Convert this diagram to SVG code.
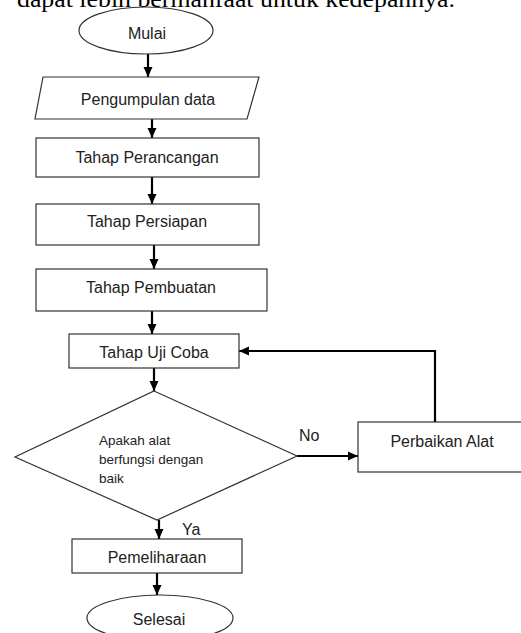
<svg xmlns="http://www.w3.org/2000/svg" width="521" height="633" viewBox="0 0 521 633">
<defs>
<marker id="ah" markerUnits="userSpaceOnUse" markerWidth="10" markerHeight="10" viewBox="0 0 10 10" refX="10" refY="5" orient="auto">
<path d="M0,0.5 L10,5 L0,9.5 Z" fill="#000"/>
</marker>
<style>
.shape{fill:#fff;stroke:#333;stroke-width:1.2}
.lbl{font-family:"Liberation Sans",Arial,sans-serif;font-size:16px;fill:#222;text-anchor:middle}
.small{font-family:"Liberation Sans",Arial,sans-serif;font-size:13.5px;fill:#222}
.conn{fill:none;stroke:#000;stroke-width:2.2}
.arr{marker-end:url(#ah)}
</style>
</defs>
<rect width="521" height="633" fill="#fff"/>
<text x="17" y="7" font-family="'Liberation Serif','Times New Roman',serif" font-size="23" textLength="438" lengthAdjust="spacingAndGlyphs" fill="#000">dapat lebih bermanfaat untuk kedepannya.</text>

<g id="connectors">
<line class="conn arr" x1="148" y1="54" x2="148" y2="77"/>
<line class="conn arr" x1="152" y1="119" x2="152" y2="138"/>
<line class="conn arr" x1="152" y1="177" x2="152" y2="204"/>
<line class="conn arr" x1="154" y1="245" x2="154" y2="269"/>
<line class="conn arr" x1="152" y1="311" x2="152" y2="334"/>
<line class="conn arr" x1="154" y1="368" x2="154" y2="391"/>
<line class="conn arr" x1="297" y1="456" x2="358" y2="456"/>
<polyline class="conn arr" points="435,422 435,351 239,351"/>
<line class="conn arr" x1="159" y1="520" x2="159" y2="539"/>
<line class="conn arr" x1="157" y1="573" x2="157" y2="595"/>
<text x="299" y="441" class="lbl" style="text-anchor:start">No</text>
<text x="182" y="535" class="lbl" style="text-anchor:start">Ya</text>
</g>

<g id="mulai">
<ellipse class="shape" cx="146" cy="30.5" rx="67" ry="23.5"/>
<text class="lbl" x="147" y="39">Mulai</text>
</g>
<g id="pengumpulan">
<polygon class="shape" points="43,77 259,77 247,119 35,119"/>
<text class="lbl" x="148" y="105">Pengumpulan data</text>
</g>
<g id="perancangan">
<rect class="shape" x="36" y="138" width="223" height="39"/>
<text class="lbl" x="147" y="163">Tahap Perancangan</text>
</g>
<g id="persiapan">
<rect class="shape" x="36" y="204" width="223" height="41"/>
<text class="lbl" x="147" y="227">Tahap Persiapan</text>
</g>
<g id="pembuatan">
<rect class="shape" x="36" y="269" width="231" height="42"/>
<text class="lbl" x="151" y="293">Tahap Pembuatan</text>
</g>
<g id="ujicoba">
<rect class="shape" x="69" y="334" width="170" height="34"/>
<text class="lbl" x="154" y="358">Tahap Uji Coba</text>
</g>
<g id="keputusan">
<polygon class="shape" points="154,391 297,456 157,520 15,457"/>
<text class="small" x="99" y="445">Apakah alat</text>
<text class="small" x="99" y="464">berfungsi dengan</text>
<text class="small" x="99" y="483">baik</text>
</g>
<g id="perbaikan">
<rect class="shape" x="358" y="422" width="170" height="50"/>
<text class="lbl" x="442" y="447">Perbaikan Alat</text>
</g>
<g id="pemeliharaan">
<rect class="shape" x="72" y="539" width="170" height="34"/>
<text class="lbl" x="157" y="563">Pemeliharaan</text>
</g>
<g id="selesai">
<ellipse class="shape" cx="160" cy="618" rx="73" ry="23"/>
<text class="lbl" x="159" y="625">Selesai</text>
</g>
</svg>
